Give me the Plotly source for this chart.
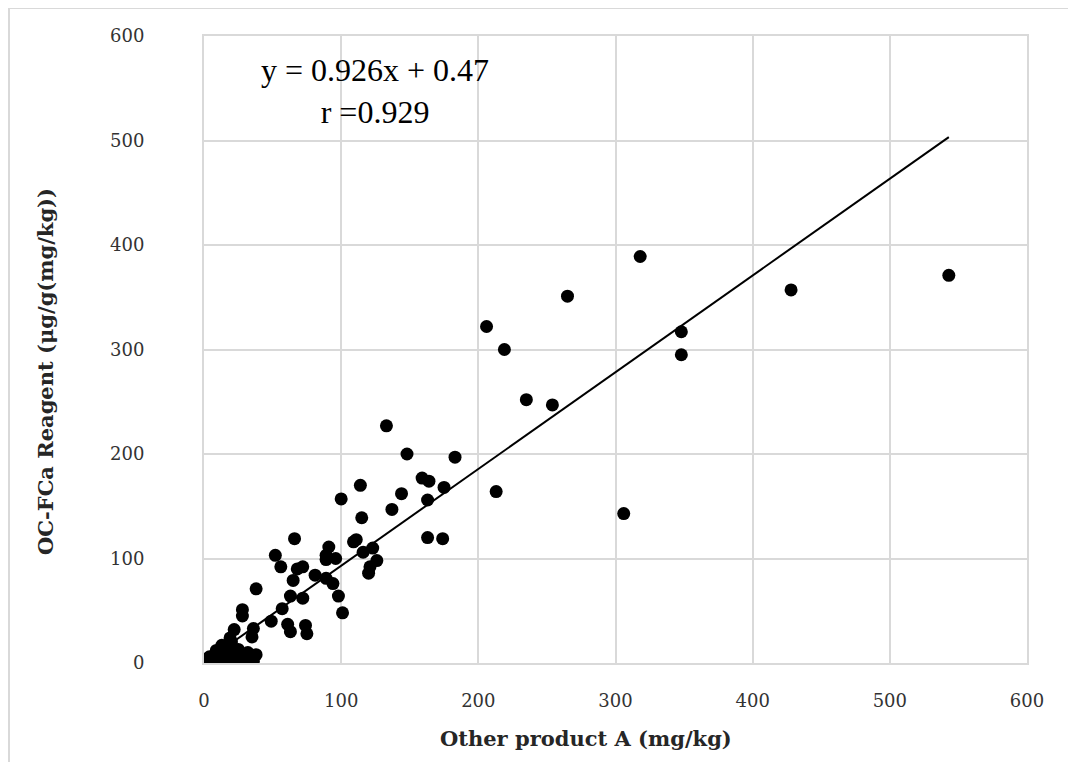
import plotly.graph_objects as go

# Data
x_vals = [
    543, 428, 318, 348, 348, 306, 265, 206, 219, 235, 254, 213,
    133, 148, 183, 159, 164, 175, 144, 137, 163, 163, 174,
    114, 100, 115,
    66, 52, 56, 68, 72, 65, 38, 81, 91, 89, 89, 96, 89, 94, 109, 111, 116, 123, 126, 121, 120,
    98, 101, 63, 72, 57, 49, 61, 63, 74, 75, 28, 28, 36, 22, 35, 19,
    1, 2, 3, 5, 6, 8, 9, 10, 11, 12, 13, 14, 15, 16, 17, 18, 19, 20, 21, 22, 23, 24, 25, 26,
    28, 30, 32, 34, 36, 38, 13, 9, 4, 20,
]
y_vals = [
    371, 357, 389, 317, 295, 143, 351, 322, 300, 252, 247, 164,
    227, 200, 197, 177, 174, 168, 162, 147, 156, 120, 119,
    170, 157, 139,
    119, 103, 92, 90, 92, 79, 71, 84, 111, 103, 99, 100, 81, 76, 116, 118, 106, 110, 98, 92, 86,
    64, 48, 64, 62, 52, 40, 37, 30, 36, 28, 51, 45, 33, 32, 25, 24,
    1, 0, 2, 1, 4, 2, 6, 1, 3, 8, 12, 2, 5, 14, 1, 9, 4, 16, 2, 11, 6, 1, 13, 3,
    8, 5, 10, 6, 2, 8, 17, 12, 6, 20,
]
slope = 0.926
intercept = 0.47
x_ticks = [0, 100, 200, 300, 400, 500, 600]
y_ticks = [0, 100, 200, 300, 400, 500, 600]

GRID = "#d9d9d9"
SERIF = "DejaVu Serif"
EQ_FONT = "Liberation Serif"

# page body has an 8px offset; plot area target (page px): x 204..1027, y 36..663
OFF = 8
L, R_EDGE, T, B_EDGE = 204 - OFF, 1027 - OFF, 36 - OFF, 663 - OFF
W, H = 1076, 762
PW, PH = R_EDGE - L, B_EDGE - T


def px(xp):
    return (xp - OFF - L) / PW


def py(yp):
    return (B_EDGE - (yp - OFF)) / PH


fig = go.Figure()
fig.add_trace(go.Scatter(
    x=x_vals, y=y_vals, mode="markers",
    marker=dict(color="black", size=13, line=dict(width=0)),
    showlegend=False, hoverinfo="x+y",
))
x_min, x_max = min(x_vals), max(x_vals)
fig.add_trace(go.Scatter(
    x=[x_min, x_max], y=[slope * x_min + intercept, slope * x_max + intercept],
    mode="lines", line=dict(color="black", width=2), showlegend=False,
))

axis_common = dict(
    range=[0, 600], tickvals=x_ticks, showgrid=True, gridcolor=GRID, gridwidth=2,
    zeroline=False, showline=True, linecolor=GRID, linewidth=2, mirror=True,
    ticks="", tickfont=dict(family=SERIF, size=18, color="#333333"),
)
fig.update_xaxes(**axis_common, ticklabelstandoff=20)
fig.update_yaxes(**{**axis_common, "tickvals": y_ticks}, ticklabelstandoff=54)

fig.update_layout(
    width=W, height=H,
    margin=dict(l=L, r=W - R_EDGE, t=T, b=H - B_EDGE),
    paper_bgcolor="white", plot_bgcolor="white",
    font=dict(family=SERIF),
    shapes=[dict(type="rect", xref="paper", yref="paper",
                 x0=px(9), x1=1.5, y0=-0.5, y1=py(8),
                 line=dict(color=GRID, width=2), fillcolor="rgba(0,0,0,0)", layer="below")],
    annotations=[
        dict(text="y = 0.926x + 0.47<br>r =0.929", xref="paper", yref="paper",
             x=px(375), y=py(91), xanchor="center", yanchor="middle", showarrow=False,
             font=dict(family=EQ_FONT, size=32, color="black"), align="center"),
        dict(text="<b>Other product A (mg/kg)</b>", xref="paper", yref="paper",
             x=px(586), y=py(738), xanchor="center", yanchor="middle", showarrow=False,
             font=dict(family=SERIF, size=21, color="#262626")),
        dict(text="<b>OC-FCa Reagent (μg/g(mg/kg))</b>", xref="paper", yref="paper",
             x=px(45), y=py(372), xanchor="center", yanchor="middle", showarrow=False,
             textangle=-90, font=dict(family=SERIF, size=21, color="#262626")),
    ],
)

fig.write_html("out.html")
